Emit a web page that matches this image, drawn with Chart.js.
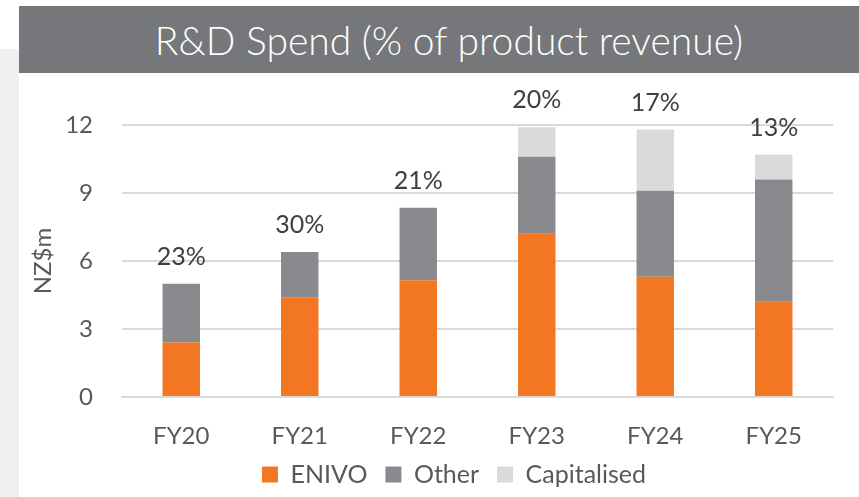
<!DOCTYPE html>
<html>
<head>
<meta charset="utf-8">
<script src="https://cdn.jsdelivr.net/npm/chart.js@4/dist/chart.umd.min.js"></script>
<style>
  html, body { margin: 0; padding: 0; background: #fff; }
  body { width: 859px; height: 497px; overflow: hidden; position: relative; font-family: Lato, sans-serif; }
  #side { position: absolute; left: 0; top: 49px; width: 19px; height: 448px; background: #f0f0f0; }
  #title {
    position: absolute; left: 19px; top: 6px; width: 840px; height: 67px;
    background: #76777a; color: #fff;
    font-family: Lato, sans-serif; font-weight: 300; font-size: 39px;
    display: flex; align-items: center; justify-content: center;
    padding-left: 20px; box-sizing: border-box;
  }
  #wrap { position: absolute; left: 19px; top: 73px; width: 864px; height: 424px; }
</style>
</head>
<body>
<div id="side"></div>
<div id="title">R&amp;D Spend (% of product revenue)</div>
<div id="wrap"><canvas id="rdChart"></canvas></div>
<script>
const years = ['FY20', 'FY21', 'FY22', 'FY23', 'FY24', 'FY25'];
const enivo = [2.4, 4.4, 5.15, 7.2, 5.3, 4.2];
const other = [2.6, 2.0, 3.2, 3.4, 3.8, 5.4];
const capitalised = [0, 0, 0, 1.3, 2.7, 1.1];
const pctLabels = ['23%', '30%', '21%', '20%', '17%', '13%'];
const yTicks = [0, 3, 6, 9, 12];

const textGrey = '#595959';

// percentage labels above each stack
const pctPlugin = {
  id: 'pctLabels',
  afterDatasetsDraw(chart) {
    const ctx = chart.ctx;
    const yScale = chart.scales.y;
    const meta = chart.getDatasetMeta(0);
    ctx.save();
    ctx.font = '25px Lato, sans-serif';
    ctx.fillStyle = '#404040';
    ctx.textAlign = 'center';
    ctx.textBaseline = 'middle';
    years.forEach((yr, i) => {
      const total = enivo[i] + other[i] + capitalised[i];
      const x = meta.data[i].x;
      const y = yScale.getPixelForValue(total) - 27;
      ctx.fillText(pctLabels[i], x, y);
    });
    ctx.restore();
  }
};

new Chart(document.getElementById('rdChart'), {
  type: 'bar',
  data: {
    labels: years,
    datasets: [
      { label: 'ENIVO', data: enivo, backgroundColor: '#f37623' },
      { label: 'Other', data: other, backgroundColor: '#898a8d' },
      { label: 'Capitalised', data: capitalised, backgroundColor: '#d9dadb' }
    ]
  },
  options: {
    responsive: true,
    maintainAspectRatio: false,
    animation: false,
    layout: { padding: { top: 52, left: 6, right: 0, bottom: 0 } },
    datasets: {
      bar: { barPercentage: 1, categoryPercentage: 0.316 }
    },
    scales: {
      x: {
        stacked: true,
        afterFit: axis => { axis.height = 47; },
        grid: { display: false, drawTicks: false },
        border: { display: true, color: '#d9d9d9', width: 2 },
        ticks: { color: textGrey, font: { family: 'Lato', size: 24 }, padding: 25 }
      },
      y: {
        stacked: true,
        min: 0,
        max: 12,
        afterBuildTicks: axis => { axis.ticks = yTicks.map(v => ({ value: v })); },
        afterFit: axis => { axis.width = 97; },
        grid: { color: '#d9d9d9', lineWidth: 2, drawTicks: false },
        border: { display: false },
        ticks: { color: textGrey, font: { family: 'Lato', size: 24 }, padding: 29 },
        title: { display: true, text: 'NZ$m', color: textGrey, font: { family: 'Lato', size: 24 } }
      },
      y2: {
        position: 'right',
        display: true,
        grid: { display: false, drawTicks: false },
        border: { display: false },
        ticks: { display: false },
        afterFit: axis => { axis.width = 50; }
      }
    },
    plugins: {
      legend: {
        position: 'bottom',
        labels: {
          boxWidth: 16,
          boxHeight: 16,
          padding: 18,
          color: textGrey,
          font: { family: 'Lato', size: 25 }
        }
      },
      tooltip: { enabled: false }
    }
  },
  plugins: [pctPlugin]
});
</script>
</body>
</html>
